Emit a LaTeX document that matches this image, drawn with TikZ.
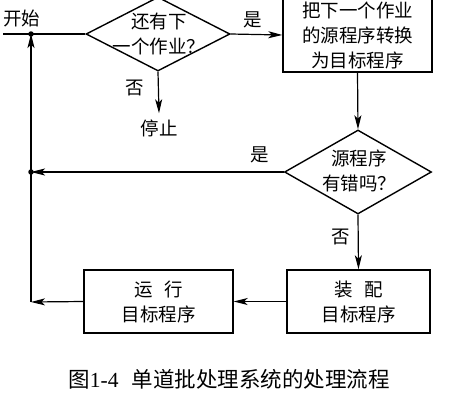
\documentclass[tikz,border=0pt]{standalone}
\usepackage{fontspec}
\newfontfamily\cjk{Noto Sans CJK SC}
\newfontfamily\lat{Liberation Serif}
\usetikzlibrary{arrows.meta,shapes.geometric}
\tikzset{
  lbl/.style={font=\cjk\fontsize{18.5}{25}\selectfont, inner sep=0pt, align=center},
  boxnode/.style={draw, rectangle, line width=1.4pt, inner sep=0pt, align=center,
    font=\cjk\fontsize{18.5}{25}\selectfont},
  dia/.style={draw, diamond, line width=1.4pt, inner sep=0pt},
  arr/.style={-{Stealth[length=14pt,width=7pt,inset=3.5pt]}, line width=1.2pt},
  ln/.style={line width=1.2pt},
  dotnode/.style={circle, fill, inner sep=0pt, minimum size=5.5pt}
}
\begin{document}
\begin{tikzpicture}[x=1pt,y=-1pt]
\clip (0,0) rectangle (461,400);
\fill[white] (0,0) rectangle (461,400);
% nodes
\coordinate (start) at (3,34);
\node[dotnode] (j1) at (31,34) {};
\node[dotnode] (j2) at (31,172) {};
\coordinate (c1) at (31,302);
\node[lbl] (tstart) at (22,18) {开始};
\node[dia, minimum width=144pt, minimum height=74pt] (d1) at (158,34) {};
\node[lbl] (d1t) at (159,34) {还有下\\一个作业？};
\node[lbl] (no1) at (135,88) {否};
\node[lbl, inner sep=6pt] (stop) at (159,128) {停止};
\node[lbl] (yes1) at (253,20) {是};
\node[boxnode, minimum width=149pt, minimum height=74pt] (b1) at (357.5,35)
  {把下一个作业\\的源程序转换\\为目标程序};
\node[dia, minimum width=147pt, minimum height=84pt] (d2) at (358,172) {};
\node[lbl] (d2t) at (359,170.5) {源程序\\有错吗？};
\node[lbl] (yes2) at (260,155) {是};
\node[lbl] (no2) at (341,237) {否};
\node[boxnode, minimum width=143pt, minimum height=63pt] (b3) at (358.5,301.5)
  {装\hspace{0.6em}配\\目标程序};
\node[boxnode, minimum width=149pt, minimum height=63pt] (b2) at (158.5,301.5)
  {运\hspace{0.6em}行\\目标程序};
\node[font=\cjk\fontsize{21.5}{24}\selectfont, inner sep=0pt] (cap) at (229,379)
  {图{\lat 1-4}\hspace{0.6em}单道批处理系统的处理流程};
% connectors
\draw[ln] (start) -- (j1.center) -- (d1.west);
\draw[arr] (d1.east) -- (b1.west);
\draw[arr] (d1.south) -- (stop.north);
\draw[arr] (b1.south) -- (d2.north);
\draw[arr] (d2.west) -- (j2.center);
\draw[arr] (d2.south) -- (b3.north);
\draw[arr] (b3.west) -- (b2.east);
\draw[arr] (b2.west) -- (c1);
\draw[arr] (c1) -- (j1.center);
\end{tikzpicture}
\end{document}
